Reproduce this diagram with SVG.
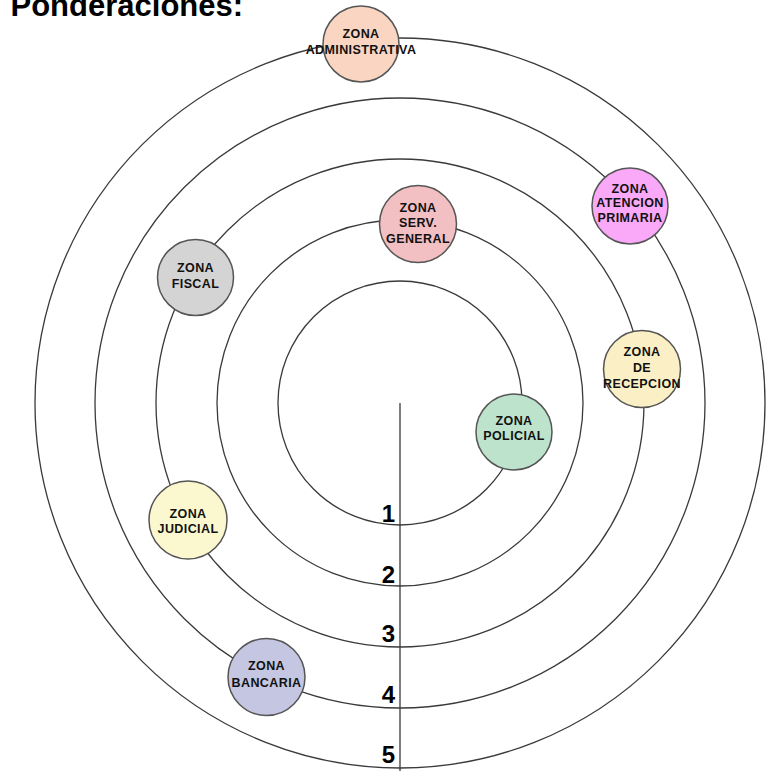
<svg xmlns="http://www.w3.org/2000/svg" width="769" height="771" viewBox="0 0 769 771">
<style>
.orbit{fill:none;stroke:#3a3a3a;stroke-width:1.3}
.node circle{stroke:#555;stroke-width:1.5}
.node text{font-family:"Liberation Sans",Arial,sans-serif;font-weight:bold;font-size:12.5px;letter-spacing:0.4px;fill:#111;text-anchor:middle}
.num{font-family:"Liberation Sans",Arial,sans-serif;font-weight:bold;font-size:24px;fill:#000;text-anchor:end}
.title{font-family:"Liberation Sans",Arial,sans-serif;font-weight:bold;font-size:31px;fill:#000}
</style>
<rect width="769" height="771" fill="#fff"/>
<text class="title" x="10.5" y="16">Ponderaciones:</text>
<g id="connectors">
<circle class="orbit" cx="400" cy="403" r="122"/>
<circle class="orbit" cx="400" cy="403" r="183"/>
<circle class="orbit" cx="400" cy="403" r="244"/>
<circle class="orbit" cx="400" cy="403" r="305"/>
<circle class="orbit" cx="400" cy="403" r="365"/>
<line x1="400" y1="403" x2="400" y2="771" stroke="#3a3a3a" stroke-width="1.3"/>
</g>
<g id="labels">
<text class="num" x="395" y="522">1</text>
<text class="num" x="395" y="583">2</text>
<text class="num" x="395" y="642">3</text>
<text class="num" x="395" y="703">4</text>
<text class="num" x="395" y="763">5</text>
</g>
<g id="zona-administrativa" class="node">
<circle cx="361" cy="44" r="38" fill="#FAD5C1"/>
<text x="361" y="38">ZONA</text>
<text x="361" y="54">ADMINISTRATIVA</text>
</g>
<g id="zona-serv-general" class="node">
<circle cx="418" cy="224" r="38.5" fill="#F2BFC3"/>
<text x="418" y="212">ZONA</text>
<text x="418" y="227">SERV.</text>
<text x="418" y="243">GENERAL</text>
</g>
<g id="zona-atencion-primaria" class="node">
<circle cx="630" cy="206" r="38" fill="#F9A9F8"/>
<text x="630" y="193">ZONA</text>
<text x="630" y="207">ATENCION</text>
<text x="630" y="222">PRIMARIA</text>
</g>
<g id="zona-fiscal" class="node">
<circle cx="195.5" cy="277.5" r="38" fill="#D4D4D4"/>
<text x="195.5" y="272">ZONA</text>
<text x="195.5" y="288">FISCAL</text>
</g>
<g id="zona-recepcion" class="node">
<circle cx="642" cy="369" r="38.5" fill="#FBF0C5"/>
<text x="642" y="356">ZONA</text>
<text x="642" y="372">DE</text>
<text x="642" y="388">RECEPCION</text>
</g>
<g id="zona-policial" class="node">
<circle cx="514" cy="432" r="38" fill="#BEE3CC"/>
<text x="514" y="425">ZONA</text>
<text x="514" y="440">POLICIAL</text>
</g>
<g id="zona-judicial" class="node">
<circle cx="188" cy="520" r="39" fill="#FBF8CF"/>
<text x="188" y="518">ZONA</text>
<text x="188" y="533">JUDICIAL</text>
</g>
<g id="zona-bancaria" class="node">
<circle cx="266.5" cy="677" r="38.5" fill="#C5C7E2"/>
<text x="266.5" y="670">ZONA</text>
<text x="266.5" y="687">BANCARIA</text>
</g>
</svg>
